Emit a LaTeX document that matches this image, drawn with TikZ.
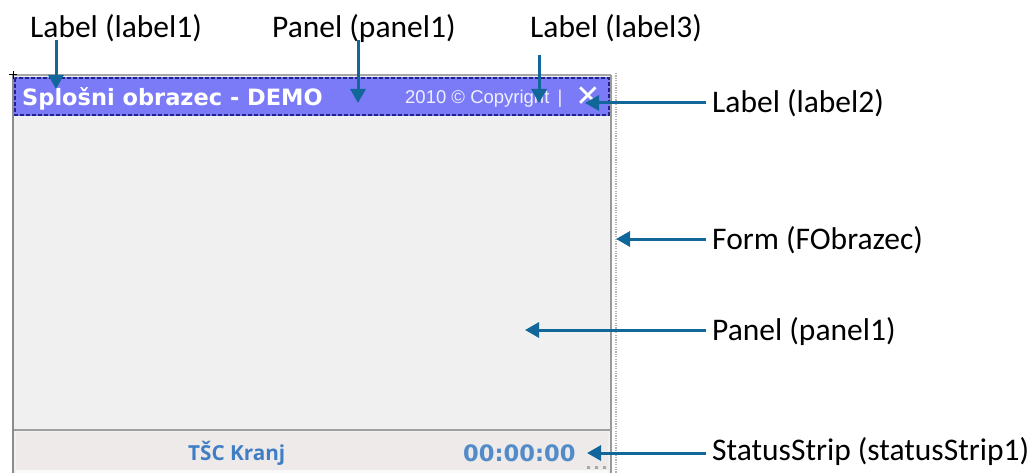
\documentclass[tikz,border=0pt]{standalone}
\usepackage{fontspec}
\setmainfont{Carlito}
\newfontfamily\verd{DejaVu Sans}
\newfontfamily\arialf{Liberation Sans}
\newfontfamily\osans{Open Sans}
\usetikzlibrary{arrows.meta}
\definecolor{arrowblue}{HTML}{11679A}
\definecolor{titlebar}{HTML}{7B7BF8}
\definecolor{titleedge}{HTML}{22228C}
\definecolor{bodygray}{HTML}{F0F0F0}
\definecolor{stripgray}{HTML}{EEEAEA}
\definecolor{framegray}{HTML}{8C8C8C}
\definecolor{statusblue}{HTML}{3F7EC4}
\tikzset{
  callout/.style={inner sep=0pt, anchor=base west, font=\fontsize{31.5}{36}\selectfont, text=black},
  arr/.style={draw=arrowblue, line width=3pt, -{Triangle[length=14pt,width=15pt]}},
}
\begin{document}
\begin{tikzpicture}[x=1pt,y=-1pt]
\useasboundingbox (0,0) rectangle (1035,473);
% form background
\fill[bodygray] (13,75) rectangle (611,473);
\draw[framegray, line width=2.5pt] (13,473) -- (13,75);
\draw[gray!70, line width=1.5pt] (13,75) -- (611,75);
\draw[gray!80, line width=2pt] (611,75) -- (611,473);
\draw[gray!60, line width=2pt, dash pattern=on 1.2pt off 1.2pt] (616,73) -- (616,473);
\draw[black, line width=1pt] (9,75) -- (17,75) (13,71) -- (13,79);
% title bar
\fill[titlebar] (14,77) rectangle (610,116);
\draw[titleedge, line width=1.5pt, dash pattern=on 4pt off 2pt] (15,78) rectangle (609,115);
\node[inner sep=0pt, anchor=base west, text=white, font=\verd\bfseries\fontsize{22.5}{26}\selectfont] (title) at (22,106) {Splošni obrazec - DEMO};
\node[inner sep=0pt, anchor=base west, text=white!88!titlebar, font=\arialf\fontsize{18.5}{22}\selectfont] (copy) at (405,104) {2010 © Copyright \,|};
\node[inner sep=0pt, anchor=center, text=white, font=\verd\bfseries\fontsize{30}{32}\selectfont] (close) at (588,97) {✕};
% body and status strip
\draw[gray!75, line width=2pt] (14,430) -- (610,430);
\fill[stripgray] (16,432) rectangle (608,470);
\fill[white!60!bodygray] (16,470) rectangle (608,473);
\node[inner sep=0pt, anchor=base west, text=statusblue, font=\osans\bfseries\fontsize{20.7}{24}\selectfont] (tsc) at (188,460) {TŠC Kranj};
\node[inner sep=0pt, anchor=base west, text=statusblue!90!white, font=\verd\bfseries\fontsize{22.6}{24}\selectfont] (clock) at (463,461) {00:00:00};
\foreach \dx in {587,595,603} \fill[gray!70] (\dx,466) rectangle ++(3,3);
% callout labels
\node[callout] (lab1) at (30,38) {Label (label1)};
\node[callout] (pan1) at (272,38) {Panel (panel1)};
\node[callout] (lab3) at (530,38) {Label (label3)};
\node[callout] (lab2) at (712,113) {Label (label2)};
\node[callout] (form) at (712,249) {Form (FObrazec)};
\node[callout] (pan2) at (712,340) {Panel (panel1)};
\node[callout] (strip) at (712,460) {StatusStrip (statusStrip1)};
% arrow tips
\coordinate (t1) at (56,89);
\coordinate (t2) at (358,103);
\coordinate (t3) at (539,103);
\coordinate (t4) at (585,103);
\coordinate (t5) at (616,239);
\coordinate (t6) at (525,330);
\coordinate (t7) at (587,453);
\draw[arr] ([yshift=3pt]t1 |- lab1.south) -- (t1);
\draw[arr] ([yshift=3pt]t2 |- pan1.south) -- (t2);
\draw[arr] ([yshift=-12pt]t3 |- lab3.south) -- (t3);
\draw[arr] ([xshift=-6pt]lab2.west |- t4) -- (t4);
\draw[arr] ([xshift=-6pt]form.west |- t5) -- (t5);
\draw[arr] ([xshift=-6pt]pan2.west |- t6) -- (t6);
\draw[arr] ([xshift=-6pt]strip.west |- t7) -- (t7);
\end{tikzpicture}
\end{document}
